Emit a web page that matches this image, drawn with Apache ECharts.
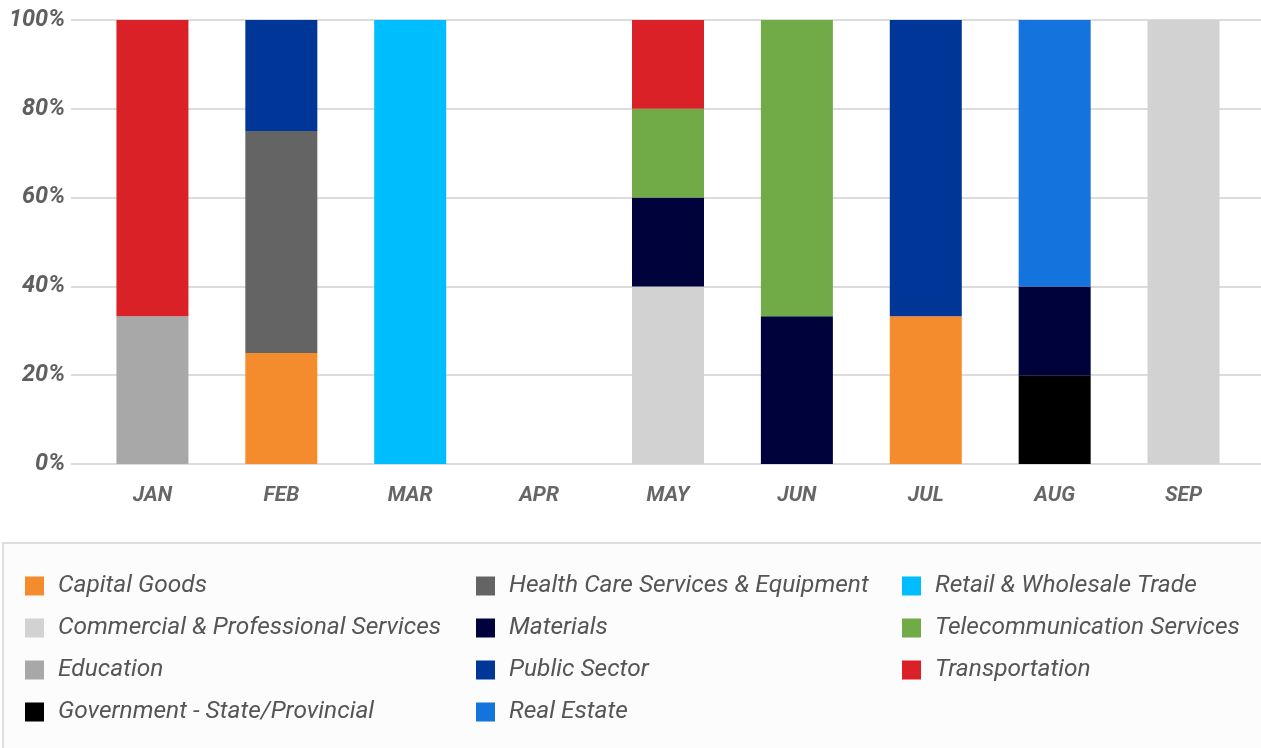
<!DOCTYPE html>
<html lang="en">
  <head>
    <meta charset="UTF-8" />
    <title>Industry mix by month</title>
    <style>
      html, body { margin: 0; padding: 0; background: #fff; }
      #chart { width: 1261px; height: 748px; }
    </style>
  </head>
  <body>
    <div id="chart"></div>
    <script src="https://cdn.jsdelivr.net/npm/echarts@6/dist/echarts.min.js"></script>
    <script>
      // months on the x axis
      var months = ['JAN', 'FEB', 'MAR', 'APR', 'MAY', 'JUN', 'JUL', 'AUG', 'SEP'];
      var yTicks = [0, 20, 40, 60, 80, 100];

      // share of each industry per month, in %
      var capitalGoods   = [0, 25, 0, 0, 0, 0, 33.3, 0, 0];
      var commercial     = [0, 0, 0, 0, 40, 0, 0, 0, 100];
      var education      = [33.3, 0, 0, 0, 0, 0, 0, 0, 0];
      var government     = [0, 0, 0, 0, 0, 0, 0, 20, 0];
      var healthCare     = [0, 50, 0, 0, 0, 0, 0, 0, 0];
      var materials      = [0, 0, 0, 0, 20, 33.3, 0, 20, 0];
      var publicSector   = [0, 25, 0, 0, 0, 0, 66.7, 0, 0];
      var realEstate     = [0, 0, 0, 0, 0, 0, 0, 60, 0];
      var retail         = [0, 0, 100, 0, 0, 0, 0, 0, 0];
      var telecom        = [0, 0, 0, 0, 20, 66.7, 0, 0, 0];
      var transportation = [66.7, 0, 0, 0, 20, 0, 0, 0, 0];

      var names = [
        'Capital Goods', 'Commercial & Professional Services', 'Education',
        'Government - State/Provincial', 'Health Care Services & Equipment',
        'Materials', 'Public Sector', 'Real Estate', 'Retail & Wholesale Trade',
        'Telecommunication Services', 'Transportation'
      ];
      var values = [capitalGoods, commercial, education, government, healthCare,
        materials, publicSector, realEstate, retail, telecom, transportation];
      var colors = ['#f48c2d', '#d2d2d2', '#a8a8a8', '#000000', '#646464',
        '#00023c', '#013699', '#1473dc', '#00bdfe', '#70ab47', '#da2128'];

      var font = 'Roboto, "DejaVu Sans", sans-serif';

      var series = names.map(function (n, i) {
        return {
          name: n,
          type: 'bar',
          stack: 'all',
          xAxisIndex: 1,
          yAxisIndex: 1,
          barWidth: 72,
          itemStyle: { color: colors[i] },
          data: values[i].map(function (v) { return v === 0 ? '-' : v; })
        };
      });

      function legendCol(left, items) {
        return {
          orient: 'vertical',
          left: left,
          top: 572,
          padding: 0,
          icon: 'rect',
          itemWidth: 19,
          itemHeight: 19,
          itemGap: 14,
          data: items,
          textStyle: {
            fontFamily: font,
            fontSize: 24.5,
            fontStyle: 'italic',
            color: '#555',
            lineHeight: 28,
            padding: [0, 0, 0, 9]
          }
        };
      }

      var myChart = echarts.init(document.getElementById('chart'));
      var option = {
        animation: false,
        backgroundColor: '#fff',
        graphic: [{
          type: 'rect',
          z: -10,
          shape: { x: 3, y: 543, width: 1280, height: 240 },
          style: { fill: '#fcfcfc', stroke: '#dedede', lineWidth: 2 }
        }],
        grid: [
          { left: 71, right: 0, top: 20, bottom: 284 },
          { left: 88, right: 13, top: 20, bottom: 284 }
        ],
        xAxis: [
          { type: 'value', gridIndex: 0, show: false, min: 0, max: 1 },
          {
            type: 'category', gridIndex: 1, data: months,
            axisLine: { show: false }, axisTick: { show: false },
            axisLabel: {
              margin: 21, color: '#666', fontFamily: font, fontSize: 21,
              fontWeight: 'bold', fontStyle: 'italic'
            }
          }
        ],
        yAxis: [
          {
            type: 'value', gridIndex: 0, min: yTicks[0], max: yTicks[yTicks.length - 1], interval: 20,
            axisLine: { show: false }, axisTick: { show: false },
            splitLine: { lineStyle: { color: '#dcdcdc', width: 2 } },
            axisLabel: {
              formatter: '{value}%', margin: 6, color: '#5f5f5f', fontFamily: font,
              fontSize: 23.5, fontWeight: 'bold', fontStyle: 'italic'
            }
          },
          { type: 'value', gridIndex: 1, min: 0, max: 100, show: false }
        ],
        legend: [
          legendCol(25, names.slice(0, 4)),
          legendCol(476, names.slice(4, 8)),
          legendCol(902, names.slice(8))
        ],
        series: series
      };
      myChart.setOption(option);
    </script>
  </body>
</html>
